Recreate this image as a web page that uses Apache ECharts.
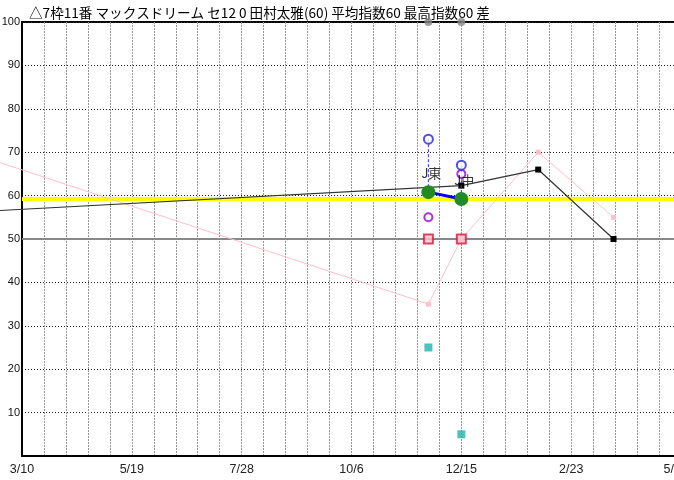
<!DOCTYPE html>
<html>
<head>
<meta charset="utf-8">
<script src="https://cdn.jsdelivr.net/npm/echarts@6/dist/echarts.min.js"></script>
<style>
  html, body { margin: 0; padding: 0; background: #fff; overflow: hidden; }
  #chart { width: 674px; height: 480px; }
</style>
</head>
<body>
<div id="chart"></div>
<script>
// 指数推移
const titleText = '△7枠11番 マックスドリーム セ12 0 田村太雅(60) 平均指数60 最高指数60 差';
const startDate = '2021-03-10';

const blackDates = ['2020-11-10', '2021-12-15', '2022-02-02', '2022-03-22'];
const blackValues = [54.5, 62.3, 66, 50];

const pinkDates = ['2021-02-04', '2021-11-24', '2021-12-15', '2022-02-02', '2022-03-22'];
const pinkValues = [70, 35, 50, 70, 55];

const raceDates = ['2021-11-24', '2021-12-15'];
const raceNames = ['J東', 'J中'];
const greenValues = [60.8, 59.2];
const blueValues = [73, 67];
const purpleValues = [55, 65];
const redValues = [50, 50];
const tealValues = [25, 5];
const topValues = [100, 100];

const avgValue = 59.3;
const baseLine = 50;

(() => {
    window.addEventListener('load', () => {
        const BASE = Date.parse(startDate);
        const day = s => (Date.parse(s) - BASE) / 86400000;
        const pairs = (ds, vs) => ds.map((d, i) => [day(d), vs[i]]);

        let chart = echarts.init(document.getElementById('chart'));

        let blueDrops = raceDates.map((d, i) => ({
            type: 'line',
            data: [[day(d), blueValues[i]], [day(d), greenValues[i]]],
            symbol: 'none',
            silent: true,
            z: 4,
            lineStyle: { color: '#3030ff', width: 1, type: [3, 2] }
        }));

        let option = {
            animation: false,
            textStyle: { fontFamily: '"Noto Sans CJK JP", sans-serif' },
            title: {
                text: titleText,
                left: 24,
                top: 1,
                textStyle: { fontSize: 13.6, fontWeight: 'normal', color: '#000', fontFamily: '"Noto Sans CJK JP", sans-serif' }
            },
            grid: [
                {
                    left: 22, top: 22, width: 659, height: 434,
                    outerBoundsMode: 'none',
                    show: true, borderColor: '#000', borderWidth: 2
                },
                {
                    // 軸の左側まで線を伸ばすための重ね合わせ用
                    left: 0, top: 22, width: 681, height: 434,
                    outerBoundsMode: 'none',
                    show: false
                }
            ],
            xAxis: [
                {
                    type: 'value',
                    min: 0, max: 420, interval: 14,
                    axisLine: { show: true, lineStyle: { color: '#000', width: 2 } },
                    axisTick: { show: false },
                    splitLine: { show: true, lineStyle: { color: '#999', width: 1, type: [2, 1] } },
                    axisLabel: {
                        color: '#222', fontSize: 12.5, margin: 7,
                        fontFamily: 'Liberation Sans, sans-serif',
                        alignMaxLabel: 'right',
                        formatter: v => {
                            if (v % 70 !== 0) return '';
                            let dt = new Date(BASE + v * 86400000);
                            return (dt.getUTCMonth() + 1) + '/' + dt.getUTCDate();
                        }
                    }
                },
                {
                    type: 'value', gridIndex: 1,
                    min: -14, max: 420, interval: 14,
                    show: false
                }
            ],
            yAxis: [
                {
                    type: 'value',
                    min: 0, max: 100, interval: 10,
                    axisLine: { show: true, lineStyle: { color: '#000', width: 2 } },
                    axisTick: { show: false },
                    splitLine: { show: true, lineStyle: { color: '#222', width: 1, type: [1, 2] } },
                    axisLabel: {
                        showMinLabel: false,
                        color: '#111', fontSize: 11, margin: 2,
                        fontFamily: 'Liberation Sans, sans-serif'
                    }
                },
                {
                    type: 'value', gridIndex: 1,
                    min: 0, max: 100, interval: 10,
                    show: false
                }
            ],
            series: [
                {
                    type: 'line',
                    data: [],
                    silent: true,
                    z: 1,
                    markLine: {
                        silent: true,
                        z: 1,
                        symbol: 'none',
                        label: { show: false },
                        data: [
                            { yAxis: baseLine, lineStyle: { color: '#888', width: 2, type: 'solid' } },
                            { yAxis: avgValue, lineStyle: { color: '#ffff00', width: 4, type: 'solid' } }
                        ]
                    }
                },
                {
                    type: 'line',
                    xAxisIndex: 1, yAxisIndex: 1,
                    data: pairs(pinkDates, pinkValues),
                    symbol: 'rect',
                    symbolSize: 5,
                    z: 2,
                    lineStyle: { color: '#ffc0cb', width: 1 },
                    itemStyle: { color: '#ffc0cb' }
                },
                {
                    type: 'line',
                    xAxisIndex: 1, yAxisIndex: 1,
                    data: pairs(blackDates, blackValues),
                    symbol: 'rect',
                    symbolSize: 6,
                    z: 3,
                    lineStyle: { color: '#333', width: 1.2 },
                    itemStyle: { color: '#000' }
                },
                ...blueDrops,
                {
                    type: 'scatter',
                    data: pairs(raceDates, tealValues),
                    symbol: 'rect',
                    symbolSize: 8,
                    z: 5,
                    itemStyle: { color: '#20b2aa' }
                },
                {
                    type: 'scatter',
                    data: pairs(raceDates, redValues),
                    symbol: 'rect',
                    symbolSize: 9,
                    z: 5,
                    itemStyle: { color: '#f6c4cc', borderColor: '#dc143c', borderWidth: 2 }
                },
                {
                    type: 'scatter',
                    data: pairs(raceDates, purpleValues),
                    symbol: 'circle',
                    symbolSize: 8,
                    z: 5,
                    itemStyle: { color: '#fff', borderColor: '#9400d3', borderWidth: 2 }
                },
                {
                    type: 'scatter',
                    data: pairs(raceDates, blueValues),
                    symbol: 'circle',
                    symbolSize: 9,
                    z: 5,
                    itemStyle: { color: '#fff', borderColor: '#2020ff', borderWidth: 2 }
                },
                {
                    type: 'scatter',
                    data: pairs(raceDates, topValues),
                    clip: false,
                    symbol: 'circle',
                    symbolSize: 8,
                    z: 10,
                    itemStyle: { color: '#888' }
                },
                {
                    type: 'line',
                    data: pairs(raceDates, greenValues),
                    symbol: 'circle',
                    symbolSize: 14,
                    z: 6,
                    lineStyle: { color: '#0000ff', width: 3 },
                    itemStyle: { color: '#228b22' }
                },
                {
                    type: 'scatter',
                    data: raceDates.map((d, i) => ({ name: raceNames[i], value: [day(d), greenValues[i]] })),
                    symbolSize: 0,
                    z: 7,
                    label: {
                        show: true,
                        formatter: '{b}',
                        position: [-7, -26],
                        color: '#000',
                        fontSize: 13,
                        fontFamily: '"Noto Sans CJK JP", sans-serif'
                    }
                }
            ]
        };
        chart.setOption(option);
    });
})();
</script>
</body>
</html>
